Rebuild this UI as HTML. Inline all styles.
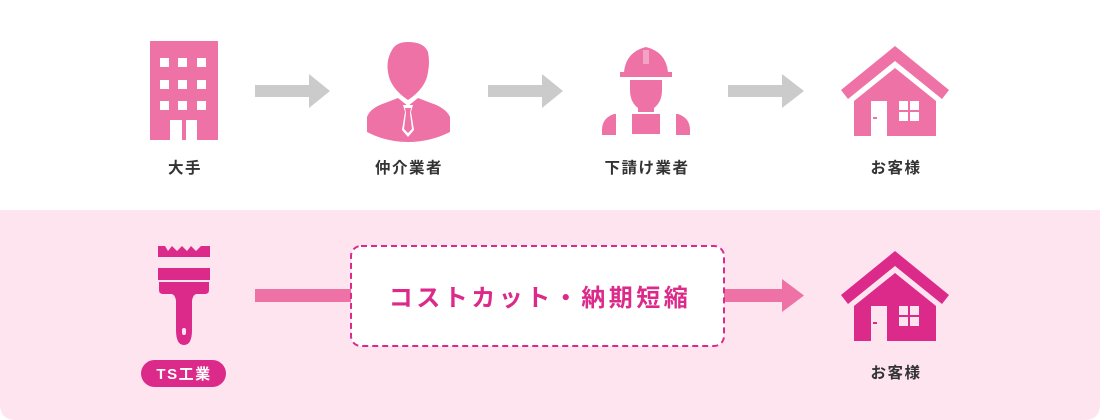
<!DOCTYPE html>
<html><head><meta charset="utf-8"><style>
html,body{margin:0;padding:0;background:#fff;}
svg{display:block}
text{font-family:"Liberation Sans","Noto Sans CJK JP",sans-serif;font-weight:bold}
</style></head><body>
<svg width="1100" height="420" viewBox="0 0 1100 420" xmlns="http://www.w3.org/2000/svg">
<rect x="0" y="0" width="1100" height="420" fill="#fff"/>
<path d="M0 210 H1100 V404 Q1100 420 1084 420 H16 Q0 420 0 404 Z" fill="#fde4ef"/>
<rect x="150" y="41" width="68" height="99" fill="#ef72a6"/>
<g fill="#fff">
<rect x="160" y="58" width="9" height="9"/><rect x="178" y="58" width="9" height="9"/><rect x="197" y="58" width="9" height="9"/>
<rect x="160" y="80" width="9" height="9"/><rect x="178" y="80" width="9" height="9"/><rect x="197" y="80" width="9" height="9"/>
<rect x="160" y="101" width="9" height="9"/><rect x="178" y="101" width="9" height="9"/><rect x="197" y="101" width="9" height="9"/>
<rect x="170" y="120" width="27" height="20"/></g>
<rect x="182" y="120" width="4" height="20" fill="#ef72a6"/>
<g fill="#cbcbcb">
<path d="M255 85 H309 V74 L330 91 L309 108 V97 H255Z"/>
<path d="M488 85 H542 V74 L563 91 L542 108 V97 H488Z"/>
<path d="M728 85 H782 V74 L804 91 L782 108 V97 H728Z"/>
</g>
<g fill="#ef72a6">
<path d="M392 50 Q396 42 408 42 Q424 42 428 52 Q430 62 428 72 Q426 88 408 100 Q390 88 388 72 Q386 60 392 50Z"/>
<path d="M367 117 Q370 108 385 103 L398 98 L408 106 L418 98 L431 103 Q446 108 450 117 V132 Q430 142 408 142 Q386 142 367 132Z"/>
</g>
<path d="M403 105 L413 105 L411 112 L414 130 L408 137 L402 130 L405 112Z" fill="#fff"/>
<path d="M405 108 L411 108 L410 113 L412 129 L408 133 L404 129 L406 113Z" fill="#ef72a6"/>
<g fill="#ef72a6">
<path d="M624 72 Q626 52 646 47 Q666 52 668 72 H672 V77 H620 V72Z"/>
<path d="M630 80 H662 V90 Q662 102 654 108 V112 H638 V108 Q630 102 630 90Z"/>
<rect x="632" y="114" width="28" height="20"/>
<path d="M602 130 Q602 118 614 114 L616 114 V135 L602 135Z"/>
<path d="M690 130 Q690 118 678 114 L676 114 V135 L690 135Z"/>
</g>
<rect x="643" y="50" width="6" height="14" fill="#fff" opacity="0.35"/>
<g>
<path d="M895 46 L949 90 L942 99 L895 61 L848 99 L841 90Z" fill="#ef72a6"/>
<path d="M895 68 L936 101 V136 H854 V101Z" fill="#ef72a6"/>
<rect x="871" y="101" width="16" height="35" fill="#fff"/>
<rect x="873" y="117" width="4" height="2" fill="#ef72a6"/>
<rect x="899" y="101" width="20" height="20" fill="#fff"/>
<rect x="908" y="101" width="2" height="20" fill="#ef72a6"/><rect x="899" y="110" width="20" height="2" fill="#ef72a6"/>
</g>
<g>
<path d="M895 251 L949 295 L942 304 L895 266 L848 304 L841 295Z" fill="#dc2a8a"/>
<path d="M895 273 L936 306 V341 H854 V306Z" fill="#dc2a8a"/>
<rect x="871" y="306" width="16" height="35" fill="#fde4ef"/>
<rect x="873" y="322" width="4" height="2" fill="#dc2a8a"/>
<rect x="899" y="306" width="20" height="20" fill="#fde4ef"/>
<rect x="908" y="306" width="2" height="20" fill="#dc2a8a"/><rect x="899" y="315" width="20" height="2" fill="#dc2a8a"/>
</g>
<g font-size="15.5" fill="#333" text-anchor="middle" letter-spacing="1.5">
<text x="185" y="173">大手</text>
<text x="409" y="173">仲介業者</text>
<text x="647" y="173">下請け業者</text>
<text x="896" y="173">お客様</text>
<text x="896" y="378">お客様</text>
</g>
<g fill="#dc2a8a">
<path d="M158 246 H165 L168 251 L172 246 L177 251 L182 246 L187 251 L191 246 L196 251 L201 246 H210 V257 H158Z"/>
<rect x="158" y="268" width="52" height="12"/>
<path d="M159 282 H209 V290 Q209 294 205 294 H196 Q192 296 192 302 V330 Q192 345 184 345 Q176 345 176 330 V302 Q176 296 172 294 H163 Q159 294 159 290Z"/>
</g>
<rect x="182" y="328" width="4" height="7" rx="2" fill="#fde4ef"/>
<rect x="141" y="360" width="85" height="27" rx="13.5" fill="#dc2a8a"/>
<text x="184" y="379" font-size="15" fill="#fff" text-anchor="middle" letter-spacing="1.5">TS工業</text>
<rect x="255" y="289" width="96" height="13" fill="#ef72a6"/>
<path d="M724 289 H782 V279 L804 295.5 L782 312 V302 H724Z" fill="#ef72a6"/>
<rect x="351" y="246" width="373" height="100" rx="10" fill="#fff" stroke="#dc2a8a" stroke-width="2" stroke-dasharray="6,4"/>
<text x="540" y="306" font-size="24" fill="#dc2a8a" text-anchor="middle" letter-spacing="3.5">コストカット・納期短縮</text>
</svg>
</body></html>
